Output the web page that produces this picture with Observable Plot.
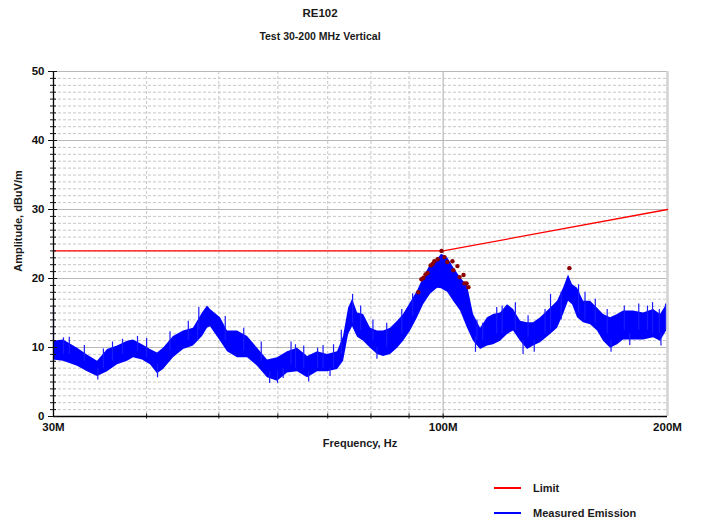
<!DOCTYPE html>
<html><head><meta charset="utf-8">
<script src="https://cdn.jsdelivr.net/npm/d3@7"></script>
<script src="https://cdn.jsdelivr.net/npm/@observablehq/plot@0.6"></script>
<style>
body{margin:0;background:#fff;font-family:"Liberation Sans",Arial,sans-serif;}
#wrap{position:relative;width:708px;height:523px;overflow:hidden;}
#chart{position:absolute;left:0;top:0;}
.t{position:absolute;font-weight:bold;color:#1a1a1a;white-space:nowrap;line-height:1;}
.lg{position:absolute;height:2px;width:27px;}
</style></head><body>
<div id="wrap">
<div id="chart"></div>
<div class="t" style="left:320px;top:8px;font-size:11.5px;transform:translateX(-50%)">RE102</div>
<div class="t" style="left:320px;top:31px;font-size:10.5px;transform:translateX(-50%)">Test 30-200 MHz Vertical</div>
<div class="t" style="left:18px;top:221px;font-size:11px;transform:translate(-50%,-50%) rotate(-90deg)">Amplitude, dBuV/m</div>
<div class="t" style="left:360px;top:443px;font-size:11px;transform:translate(-50%,-50%)">Frequency, Hz</div>
<div class="lg" style="left:494px;top:487px;background:#ff0000;height:1.5px"></div>
<div class="t" style="left:533px;top:483px;font-size:11px">Limit</div>
<div class="lg" style="left:494px;top:512px;background:#0000ff"></div>
<div class="t" style="left:533px;top:508px;font-size:11px">Measured Emission</div>
</div>
<script>
// Measured emission envelope (frequency in MHz, amplitude dBuV/m)
const freqMHz = [30.0,30.94,32.31,33.32,34.37,35.45,36.56,37.71,38.41,39.49,40.48,41.37,42.14,43.46,44.83,46.23,47.54,48.28,48.73,50.26,51.36,52.97,54.64,56.35,58.12,59.94,61.82,63.77,65.77,67.84,69.96,72.16,73.51,74.66,75.59,76.76,78.20,79.91,81.65,83.18,85.00,86.86,88.48,90.42,92.39,94.12,96.18,98.28,99.50,101.37,103.27,105.52,107.83,109.84,112.25,114.70,116.84,119.40,122.01,124.29,127.01,129.79,132.22,135.11,139.34,142.39,145.05,147.31,149.14,151.47,154.30,157.68,161.12,164.14,167.73,171.40,174.60,180.08,185.73,191.57,195.76,199.41];
const emHigh = [10.9,11.1,9.9,8.9,8.0,9.7,10.2,10.9,11.1,10.4,9.7,9.2,9.9,11.6,12.4,12.8,15.0,16.0,15.5,14.3,12.4,12.4,11.6,9.9,8.2,8.5,9.4,9.9,8.7,9.4,9.0,9.4,11.6,15.7,17.0,15.0,14.8,12.8,12.4,12.4,12.8,13.8,14.8,16.5,18.2,20.1,22.0,22.8,23.5,23.0,21.6,20.1,18.9,14.8,12.8,14.3,14.8,15.0,16.2,15.5,13.8,13.6,13.6,14.3,15.7,16.7,18.6,20.5,19.1,18.6,16.7,16.7,15.7,14.8,14.3,14.8,15.3,15.3,15.0,15.5,14.8,16.2];
const emLow  = [8.2,8.0,7.3,6.5,5.8,6.5,7.5,8.0,8.5,8.2,7.5,6.2,6.8,8.5,9.7,10.2,11.6,12.8,13.0,10.9,9.4,8.5,8.5,7.3,5.6,5.1,6.3,6.5,5.6,6.5,6.5,6.8,8.0,11.9,13.0,11.5,10.9,9.9,9.0,8.7,9.0,9.9,10.9,12.4,14.3,16.2,17.7,18.6,18.5,18.0,16.7,15.3,12.8,10.9,9.7,10.2,10.4,10.9,11.9,12.4,10.9,9.7,10.2,10.7,11.9,12.8,14.8,16.7,16.2,14.3,13.6,13.3,12.4,10.9,9.9,10.4,11.1,11.1,11.1,11.4,10.9,12.4];
// Isolated upward spikes visible in the trace
const spikeFreq = [30.0,30.94,31.5,33.0,35.0,36.0,37.13,38.89,40.0,43.0,45.5,46.81,47.0,51.0,54.0,57.0,62.5,63.36,65.0,67.84,69.0,71.27,73.0,75.59,77.5,80.5,84.0,88.0,91.0,111.0,113.0,118.0,120.0,125.0,130.0,137.0,139.34,144.0,151.94,155.0,160.0,166.0,175.0,183.0,188.0,190.97,195.0,198.8];
const spikeLow  = [8.0,9.0,9.0,8.0,7.0,8.0,9.0,9.5,8.5,9.5,11.0,11.0,12.5,11.0,9.5,8.0,7.5,7.0,7.0,7.0,7.0,7.0,9.0,13.5,12.5,11.0,10.0,12.0,14.5,11.0,11.0,12.0,12.0,12.5,11.5,12.0,12.5,14.0,15.0,14.0,13.5,12.0,12.5,12.5,12.5,12.0,12.0,12.5];
const spikeHigh = [16.0,11.4,11.5,10.3,9.8,10.8,11.2,11.6,11.3,12.3,13.8,13.5,15.8,14.5,12.8,10.8,10.8,10.4,10.2,9.9,10.3,10.4,12.5,17.7,16.0,14.0,13.5,15.5,17.8,14.0,13.5,15.8,16.0,16.5,14.6,15.5,17.7,18.0,19.1,18.0,17.0,15.5,16.0,16.3,16.0,16.5,15.5,16.3];
// Isolated downward spikes
const dipFreq = [34.4,41.37,58.5,59.94,61.0,66.0,70.5,81.5,110.5,128.0,132.5,168.0,178.0,196.0];
const dipLow  = [5.3,5.6,4.8,4.8,5.5,5.0,5.8,8.3,9.3,9.0,9.3,9.3,10.3,10.2];
const dipHigh = [7.0,7.5,6.5,6.5,7.0,6.5,7.0,10.0,11.5,11.0,11.0,11.0,12.0,12.0];
// Peak markers
const peakFreq = [92.6,93.5,94.1,94.7,95.3,96.2,96.8,97.3,98.3,99.5,100.4,101.3,102.9,103.2,104.5,105.2,106.5,106.8,107.5,108.1,147.7];
const peakVal  = [18.0,19.9,20.1,20.6,20.8,21.9,22.1,22.5,22.8,24.0,23.1,22.4,22.5,21.2,21.8,20.2,20.5,19.3,19.3,18.75,21.5];
// Limit line
const limitFreq = [30, 100, 200];
const limitVal  = [24, 24, 30];
// Axis ticks
const yMajor = [0,10,20,30,40,50];
const yMinor = d3.range(1,50).filter(d => d % 10 !== 0);
const xMinor = [40,50,60,70,80,90];
const xLabels = [30,100,200];

const em = freqMHz.map((f,i) => ({f, hi: emHigh[i], lo: emLow[i]}));
const spikes = spikeFreq.map((f,i) => ({f, lo: spikeLow[i], hi: spikeHigh[i]}))
  .concat(dipFreq.map((f,i) => ({f, lo: dipLow[i], hi: dipHigh[i]})));
const peaks = peakFreq.map((f,i) => ({f, v: peakVal[i]}));
const limit = limitFreq.map((f,i) => ({f, v: limitVal[i]}));

const chart = Plot.plot({
  width: 708, height: 523,
  marginLeft: 53, marginRight: 41, marginTop: 71, marginBottom: 107,
  style: {fontFamily: "'Liberation Sans', Arial, sans-serif", background: "transparent", color: "#111", overflow: "visible"},
  x: {type: "log", domain: [30, 200], axis: null},
  y: {domain: [0, 50], axis: null},
  marks: [
    Plot.ruleY(yMinor, {stroke: "#c6c6c6", strokeDasharray: "3,2"}),
    Plot.ruleX(xMinor, {stroke: "#c6c6c6", strokeDasharray: "3,2"}),
    Plot.ruleY(yMajor.filter(d => d > 0), {stroke: "#b8b8b8", strokeWidth: 1.2}),
    Plot.ruleX([100], {stroke: "#b8b8b8", strokeWidth: 1.2}),
    Plot.ruleX([200], {stroke: "#d2d2d2", strokeWidth: 2.5}),
    Plot.areaY(em, {x: "f", y1: "lo", y2: "hi", fill: "#0000ff"}),
    Plot.ruleX(spikes, {x: "f", y1: "lo", y2: "hi", stroke: "#1a1aff", strokeWidth: 1.2}),
    Plot.line(limit, {x: "f", y: "v", stroke: "#ff0000", strokeWidth: 1.3}),
    Plot.dot(peaks, {x: "f", y: "v", r: 2.2, fill: "#8b0000"}),
    Plot.ruleX([30], {y1: 0, y2: 50, stroke: "#000", strokeWidth: 1.3}),
    Plot.ruleY([0], {stroke: "#000", strokeWidth: 1.3}),
    Plot.axisY(yMinor, {tickSize: 6, dx: 3, tickFormat: () => "", label: null}),
    Plot.axisY(yMajor, {tickSize: 9, dx: 4, tickPadding: 4, fontSize: 11.5, fontWeight: "bold", label: null}),
    Plot.axisX(xMinor.concat([100]), {tickSize: 5, dy: -2.5, tickFormat: () => "", label: null}),
    Plot.axisX(xLabels, {tickSize: 0, tickPadding: 6, fontSize: 11.5, fontWeight: "bold", tickFormat: d => d + "M", label: null})
  ]
});
document.getElementById("chart").appendChild(chart);
</script>
</body></html>
